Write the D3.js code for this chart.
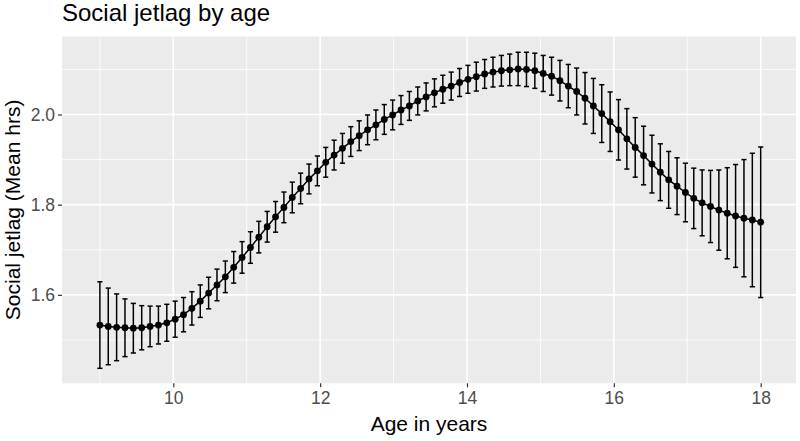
<!DOCTYPE html>
<html>
<head>
<meta charset="utf-8">
<script src="https://cdn.jsdelivr.net/npm/d3@7"></script>
<style>
  html, body { margin: 0; padding: 0; background: #fff; }
  svg { display: block; font-family: Arial, "Liberation Sans", sans-serif; }
</style>
</head>
<body>
<svg id="chart" width="800" height="441"></svg>
<script>
// ---- data ----
const title = "Social jetlag by age";
const xLabel = "Age in years";
const yLabel = "Social jetlag (Mean hrs)";
const ageStart = 9, ageEnd = 18, nPoints = 80;
const meanJetlag = [
  1.533, 1.530, 1.528, 1.527, 1.526, 1.527, 1.530, 1.533, 1.538, 1.546,
  1.556, 1.570, 1.586, 1.604, 1.622, 1.640, 1.661, 1.683, 1.705, 1.728,
  1.751, 1.773, 1.794, 1.816, 1.836, 1.857, 1.875, 1.894, 1.910, 1.925,
  1.940, 1.953, 1.966, 1.977, 1.989, 1.999, 2.010, 2.019, 2.030, 2.039,
  2.048, 2.056, 2.063, 2.071, 2.078, 2.084, 2.090, 2.094, 2.097, 2.099,
  2.101, 2.100, 2.097, 2.091, 2.085, 2.075, 2.063, 2.051, 2.036, 2.019,
  2.002, 1.984, 1.966, 1.946, 1.927, 1.909, 1.890, 1.872, 1.855, 1.841,
  1.827, 1.814, 1.804, 1.796, 1.788, 1.781, 1.775, 1.770, 1.766, 1.761
];
const seJetlag = [
  0.096, 0.085, 0.074, 0.064, 0.055, 0.049, 0.045, 0.042, 0.041, 0.040,
  0.038, 0.037, 0.036, 0.035, 0.035, 0.035, 0.035, 0.035, 0.035, 0.035,
  0.034, 0.034, 0.034, 0.034, 0.034, 0.033, 0.033, 0.033, 0.033, 0.033,
  0.033, 0.033, 0.033, 0.033, 0.033, 0.033, 0.032, 0.032, 0.031, 0.031,
  0.031, 0.031, 0.031, 0.031, 0.031, 0.032, 0.032, 0.033, 0.034, 0.035,
  0.037, 0.038, 0.039, 0.040, 0.042, 0.045, 0.048, 0.052, 0.057, 0.061,
  0.064, 0.066, 0.067, 0.067, 0.066, 0.065, 0.064, 0.063, 0.063, 0.063,
  0.065, 0.067, 0.073, 0.080, 0.089, 0.101, 0.114, 0.130, 0.148, 0.167
];
const xTicks = [10, 12, 14, 16, 18];
const xMinor = [9, 11, 13, 15, 17];
const yTicks = [1.6, 1.8, 2.0];
const yMinor = [1.5, 1.7, 1.9, 2.1];

const ages = d3.range(nPoints).map(i => ageStart + i * (ageEnd - ageStart) / (nPoints - 1));
const data = ages.map((a, i) => ({ age: a, mean: meanJetlag[i], lo: meanJetlag[i] - seJetlag[i], hi: meanJetlag[i] + seJetlag[i] }));

// ---- layout ----
const panel = { left: 62, right: 796, top: 36.5, bottom: 383.3 };
const x = d3.scaleLinear().domain([8.484, 18.481]).range([panel.left, panel.right]);
const y = d3.scaleLinear().domain([1.4038, 2.173]).range([panel.bottom, panel.top]);
const capW = 0.07;
const FONT = "Arial, 'Liberation Sans', sans-serif";

const svg = d3.select("#chart");

svg.append("rect")
  .attr("x", panel.left).attr("y", panel.top)
  .attr("width", panel.right - panel.left).attr("height", panel.bottom - panel.top)
  .attr("fill", "#EBEBEB");

const grid = svg.append("g");
grid.selectAll(".ymin").data(yMinor).join("line")
  .attr("x1", panel.left).attr("x2", panel.right)
  .attr("y1", d => y(d)).attr("y2", d => y(d))
  .attr("stroke", "#fff").attr("stroke-width", 0.8);
grid.selectAll(".xmin").data(xMinor).join("line")
  .attr("y1", panel.top).attr("y2", panel.bottom)
  .attr("x1", d => x(d)).attr("x2", d => x(d))
  .attr("stroke", "#fff").attr("stroke-width", 0.8);
grid.selectAll(".ymaj").data(yTicks).join("line")
  .attr("x1", panel.left).attr("x2", panel.right)
  .attr("y1", d => y(d)).attr("y2", d => y(d))
  .attr("stroke", "#fff").attr("stroke-width", 1.6);
grid.selectAll(".xmaj").data(xTicks).join("line")
  .attr("y1", panel.top).attr("y2", panel.bottom)
  .attr("x1", d => x(d)).attr("x2", d => x(d))
  .attr("stroke", "#fff").attr("stroke-width", 1.6);

// axes
const xAxis = d3.axisBottom(x).tickValues(xTicks).tickFormat(d3.format("d")).tickSize(4).tickPadding(4);
const yAxis = d3.axisLeft(y).tickValues(yTicks).tickFormat(d3.format(".1f")).tickSize(4).tickPadding(3);

const gx = svg.append("g").attr("transform", `translate(0,${panel.bottom})`).call(xAxis);
const gy = svg.append("g").attr("transform", `translate(${panel.left},0)`).call(yAxis);
[gx, gy].forEach(g => {
  g.select(".domain").remove();
  g.selectAll(".tick line").attr("stroke", "#333333").attr("stroke-width", 1.2);
  g.selectAll(".tick text").attr("fill", "#4D4D4D").attr("font-size", 17.5).attr("font-family", FONT);
});

// error bars
const eb = svg.append("g").attr("stroke", "#000").attr("stroke-width", 1.5).attr("fill", "none");
eb.selectAll(".v").data(data).join("line")
  .attr("x1", d => x(d.age)).attr("x2", d => x(d.age))
  .attr("y1", d => y(d.lo)).attr("y2", d => y(d.hi));
eb.selectAll(".t").data(data).join("line")
  .attr("x1", d => x(d.age - capW / 2)).attr("x2", d => x(d.age + capW / 2))
  .attr("y1", d => y(d.hi)).attr("y2", d => y(d.hi));
eb.selectAll(".b").data(data).join("line")
  .attr("x1", d => x(d.age - capW / 2)).attr("x2", d => x(d.age + capW / 2))
  .attr("y1", d => y(d.lo)).attr("y2", d => y(d.lo));

// line
svg.append("path").datum(data)
  .attr("fill", "none").attr("stroke", "#000").attr("stroke-width", 1.5)
  .attr("d", d3.line().x(d => x(d.age)).y(d => y(d.mean)));

// points
svg.append("g").selectAll("circle").data(data).join("circle")
  .attr("cx", d => x(d.age)).attr("cy", d => y(d.mean)).attr("r", 3.4).attr("fill", "#000");

// titles
svg.append("text").attr("x", panel.left).attr("y", 20.5)
  .attr("font-size", 24).attr("font-family", FONT).attr("fill", "#000").text(title);
svg.append("text").attr("x", (panel.left + panel.right) / 2).attr("y", 431)
  .attr("text-anchor", "middle").attr("font-size", 21).attr("font-family", FONT).attr("fill", "#000").text(xLabel);
svg.append("text")
  .attr("transform", `translate(20,${(panel.top + panel.bottom) / 2}) rotate(-90)`)
  .attr("text-anchor", "middle").attr("font-size", 21).attr("font-family", FONT).attr("fill", "#000").text(yLabel);
</script>
</body>
</html>
